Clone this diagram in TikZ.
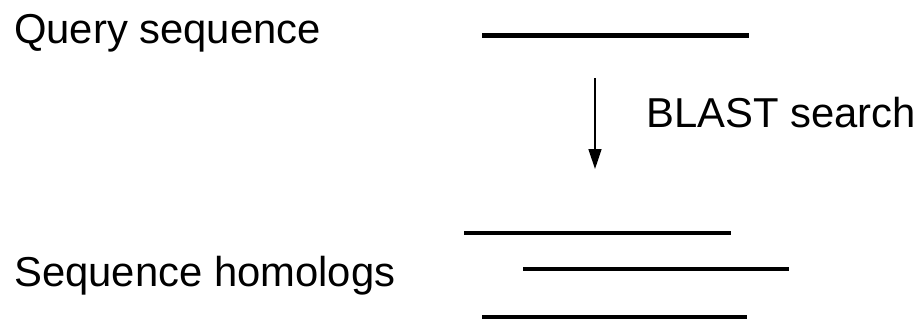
\documentclass[tikz,border=0pt]{standalone}
\usepackage{fontspec}
\setmainfont{Liberation Sans}
\usetikzlibrary{arrows.meta}
\begin{document}
\begin{tikzpicture}[x=1pt,y=-1pt,
  lbl/.style={inner sep=0pt,anchor=base west,font=\fontsize{41.8}{50}\selectfont},
  seqline/.style={line width=4.5pt},
  flow/.style={line width=1.6pt,-{Triangle[length=20pt,width=13pt]}}]
\useasboundingbox (0,0) rectangle (917,324);
\node[lbl] (query) at (14,43) {Query sequence};
\node[lbl] (homologs) at (14,286) {Sequence homologs};
\node[lbl] (blast) at (646,127) {BLAST search};
\coordinate (q1) at (482,35.5);
\coordinate (q2) at (749,35.5);
\coordinate (h1a) at (464,233);
\coordinate (h1b) at (731,233);
\coordinate (h2a) at (523,269);
\coordinate (h2b) at (789,269);
\coordinate (h3a) at (482,317);
\coordinate (h3b) at (747,317);
\coordinate (arrtop) at (595,78);
\coordinate (arrtip) at (595,169);
\draw[seqline] (q1) -- (q2);
\draw[seqline] (h1a) -- (h1b);
\draw[seqline] (h2a) -- (h2b);
\draw[seqline] (h3a) -- (h3b);
\draw[flow] (arrtop) -- (arrtip);
\end{tikzpicture}
\end{document}
